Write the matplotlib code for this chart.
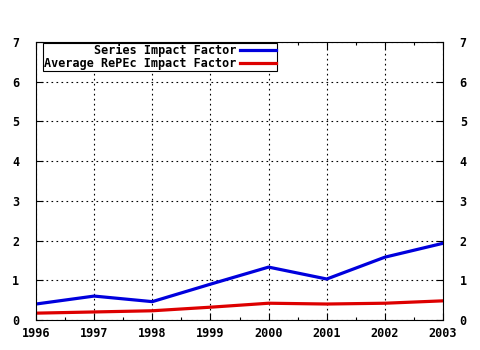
import matplotlib.pyplot as plt
from matplotlib.ticker import MultipleLocator

years = [1996, 1997, 1998, 1999, 2000, 2001, 2002, 2003]
series_if = [0.40, 0.60, 0.46, 0.90, 1.33, 1.03, 1.58, 1.93]
repec_if = [0.17, 0.20, 0.23, 0.32, 0.42, 0.40, 0.42, 0.48]

plt.rcParams['font.family'] = 'DejaVu Sans Mono'
plt.rcParams['font.weight'] = 'bold'
plt.rcParams['font.size'] = 8.5

fig = plt.figure(figsize=(4.8, 3.5), dpi=100)
ax = fig.add_axes([0.075, 0.086, 0.848, 0.794])

ax.plot(years, series_if, color='#0000dd', lw=2.3, label='Series Impact Factor')
ax.plot(years, repec_if, color='#dd0000', lw=2.3, label='Average RePEc Impact Factor')

ax.set_xlim(1996, 2003)
ax.set_ylim(0, 7)
ax.xaxis.set_major_locator(MultipleLocator(1))
ax.xaxis.set_minor_locator(MultipleLocator(0.5))
ax.yaxis.set_major_locator(MultipleLocator(1))

ax.grid(True, which='major', color='black', linestyle=(0, (1.5, 3)), lw=0.8)
ax.tick_params(which='both', direction='in', top=True, right=True,
               labelright=True, width=0.8, colors='black')
ax.tick_params(which='major', length=5, pad=5)
ax.tick_params(which='minor', length=2.5)
ax.tick_params(axis='y', pad=12)
for s in ax.spines.values():
    s.set_linewidth(0.8)

# boxed key in the top-left corner, labels right-aligned before the line samples
leg = ax.legend(loc='upper left', bbox_to_anchor=(0.018, 0.997), markerfirst=False,
                fancybox=False, edgecolor='black', framealpha=1, borderaxespad=0,
                borderpad=0.08, labelspacing=0.02, handlelength=3.0, handletextpad=0.3)
leg.get_frame().set_linewidth(0.8)

fig.savefig('out.png', dpi=100)
